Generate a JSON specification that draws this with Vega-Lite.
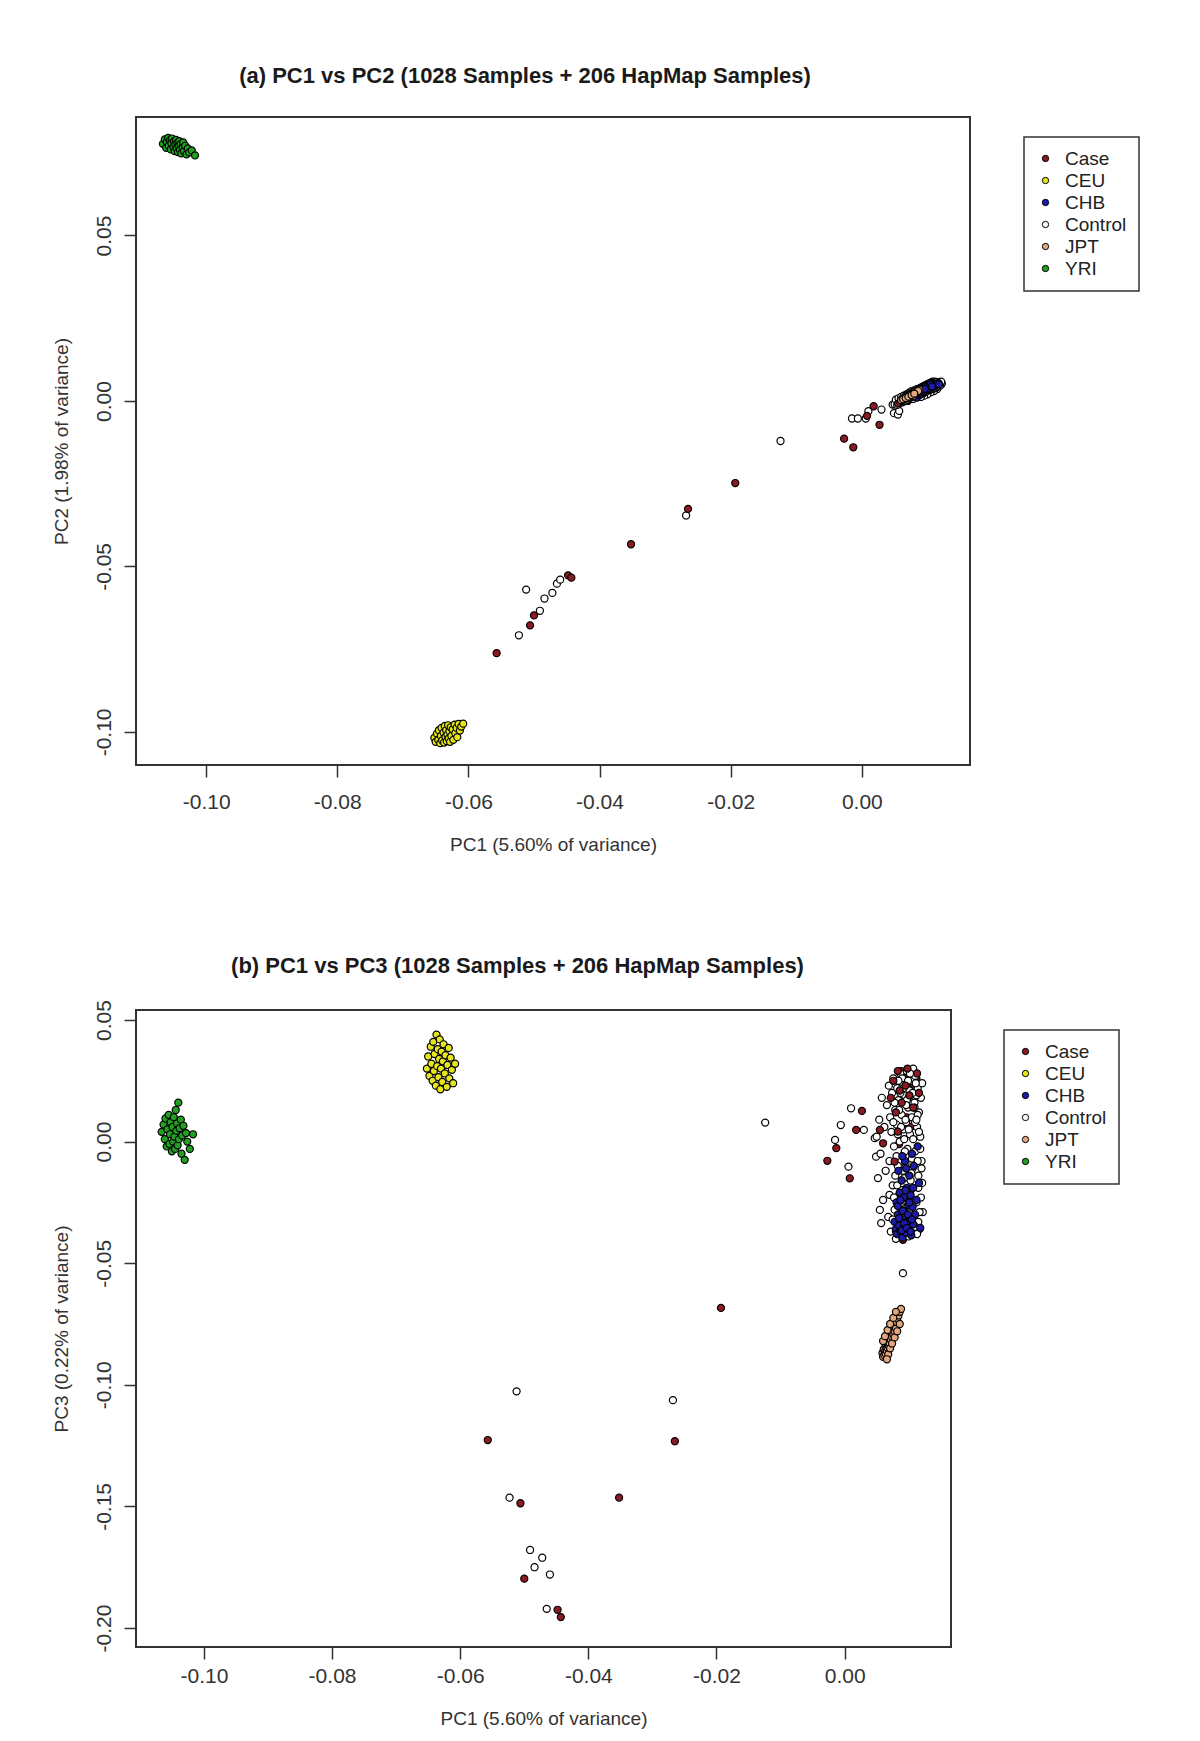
{
  "$schema": "https://vega.github.io/schema/vega-lite/v6.json",
  "padding": {"left": 50, "top": 64, "right": 0, "bottom": 0},
  "background": "white",
  "datasets": {
    "pca": [
      {"group":"Case","pc1":0.0088,"pc2":0.0026,"pc3":0.0290},
      {"group":"Case","pc1":0.0094,"pc2":0.0030,"pc3":0.0250},
      {"group":"Case","pc1":0.0100,"pc2":0.0034,"pc3":0.0280},
      {"group":"Case","pc1":0.0106,"pc2":0.0040,"pc3":0.0240},
      {"group":"Case","pc1":0.0112,"pc2":0.0044,"pc3":0.0260},
      {"group":"Case","pc1":0.0097,"pc2":0.0032,"pc3":0.0100},
      {"group":"Case","pc1":0.0103,"pc2":0.0038,"pc3":0.0060},
      {"group":"Case","pc1":0.0085,"pc2":0.0024,"pc3":-0.0010},
      {"group":"Case","pc1":0.0092,"pc2":0.0032,"pc3":0.0270},
      {"group":"Case","pc1":0.0104,"pc2":0.0042,"pc3":0.0260},
      {"group":"Case","pc1":0.0110,"pc2":0.0046,"pc3":0.0220},
      {"group":"Control","pc1":-0.0523,"pc2":-0.0708,"pc3":-0.1464},
      {"group":"Control","pc1":-0.0512,"pc2":-0.0570,"pc3":-0.1027},
      {"group":"Control","pc1":-0.0491,"pc2":-0.0634,"pc3":-0.1679},
      {"group":"Control","pc1":-0.0484,"pc2":-0.0597,"pc3":-0.1750},
      {"group":"Control","pc1":-0.0472,"pc2":-0.0580,"pc3":-0.1711},
      {"group":"Control","pc1":-0.0465,"pc2":-0.0552,"pc3":-0.1921},
      {"group":"Control","pc1":-0.0460,"pc2":-0.0540,"pc3":-0.1780},
      {"group":"Control","pc1":-0.0268,"pc2":-0.0346,"pc3":-0.1063},
      {"group":"Control","pc1":-0.0124,"pc2":-0.0121,"pc3":0.0078},
      {"group":"Control","pc1":-0.0015,"pc2":-0.0053,"pc3":0.0007},
      {"group":"Control","pc1":-0.0006,"pc2":-0.0053,"pc3":0.0068},
      {"group":"Control","pc1":0.0006,"pc2":-0.0053,"pc3":-0.0103},
      {"group":"Control","pc1":0.0010,"pc2":-0.0031,"pc3":0.0137},
      {"group":"Control","pc1":0.0030,"pc2":-0.0026,"pc3":0.0048},
      {"group":"Control","pc1":0.0047,"pc2":-0.0011,"pc3":0.0014},
      {"group":"Control","pc1":0.0049,"pc2":-0.0037,"pc3":-0.0062},
      {"group":"Control","pc1":0.0055,"pc2":-0.0041,"pc3":-0.0281},
      {"group":"Control","pc1":0.0057,"pc2":-0.0030,"pc3":-0.0335},
      {"group":"Control","pc1":0.0070,"pc2":0.0000,"pc3":-0.0219},
      {"group":"Control","pc1":0.0091,"pc2":0.0020,"pc3":-0.0541},
      {"group":"Control","pc1":0.0050,"pc2":-0.0010,"pc3":0.0020},
      {"group":"Control","pc1":0.0052,"pc2":0.0004,"pc3":-0.0150},
      {"group":"Control","pc1":0.0054,"pc2":-0.0012,"pc3":0.0090},
      {"group":"Control","pc1":0.0056,"pc2":0.0008,"pc3":-0.0050},
      {"group":"Control","pc1":0.0058,"pc2":-0.0006,"pc3":0.0180},
      {"group":"Control","pc1":0.0060,"pc2":0.0012,"pc3":-0.0240},
      {"group":"Control","pc1":0.0062,"pc2":-0.0004,"pc3":0.0060},
      {"group":"Control","pc1":0.0064,"pc2":0.0016,"pc3":-0.0120},
      {"group":"Control","pc1":0.0066,"pc2":0.0000,"pc3":0.0150},
      {"group":"Control","pc1":0.0068,"pc2":0.0020,"pc3":-0.0310},
      {"group":"Control","pc1":0.0069,"pc2":0.0004,"pc3":0.0230},
      {"group":"Control","pc1":0.0070,"pc2":0.0002,"pc3":-0.0080},
      {"group":"Control","pc1":0.0071,"pc2":0.0022,"pc3":0.0100},
      {"group":"Control","pc1":0.0072,"pc2":0.0008,"pc3":-0.0370},
      {"group":"Control","pc1":0.0073,"pc2":0.0026,"pc3":0.0040},
      {"group":"Control","pc1":0.0074,"pc2":0.0006,"pc3":0.0200},
      {"group":"Control","pc1":0.0075,"pc2":0.0014,"pc3":-0.0180},
      {"group":"Control","pc1":0.0076,"pc2":0.0030,"pc3":0.0260},
      {"group":"Control","pc1":0.0077,"pc2":0.0010,"pc3":-0.0020},
      {"group":"Control","pc1":0.0078,"pc2":0.0028,"pc3":-0.0280},
      {"group":"Control","pc1":0.0079,"pc2":0.0012,"pc3":0.0130},
      {"group":"Control","pc1":0.0080,"pc2":0.0032,"pc3":-0.0400},
      {"group":"Control","pc1":0.0081,"pc2":0.0014,"pc3":0.0070},
      {"group":"Control","pc1":0.0082,"pc2":0.0030,"pc3":0.0220},
      {"group":"Control","pc1":0.0083,"pc2":0.0016,"pc3":-0.0100},
      {"group":"Control","pc1":0.0084,"pc2":0.0036,"pc3":0.0170},
      {"group":"Control","pc1":0.0085,"pc2":0.0018,"pc3":-0.0220},
      {"group":"Control","pc1":0.0086,"pc2":0.0034,"pc3":0.0000},
      {"group":"Control","pc1":0.0087,"pc2":0.0020,"pc3":0.0280},
      {"group":"Control","pc1":0.0088,"pc2":0.0038,"pc3":-0.0340},
      {"group":"Control","pc1":0.0089,"pc2":0.0022,"pc3":0.0110},
      {"group":"Control","pc1":0.0090,"pc2":0.0040,"pc3":-0.0060},
      {"group":"Control","pc1":0.0091,"pc2":0.0024,"pc3":0.0240},
      {"group":"Control","pc1":0.0092,"pc2":0.0042,"pc3":0.0050},
      {"group":"Control","pc1":0.0093,"pc2":0.0026,"pc3":-0.0150},
      {"group":"Control","pc1":0.0094,"pc2":0.0044,"pc3":0.0190},
      {"group":"Control","pc1":0.0095,"pc2":0.0028,"pc3":-0.0260},
      {"group":"Control","pc1":0.0096,"pc2":0.0046,"pc3":0.0080},
      {"group":"Control","pc1":0.0097,"pc2":0.0030,"pc3":0.0290},
      {"group":"Control","pc1":0.0098,"pc2":0.0048,"pc3":-0.0030},
      {"group":"Control","pc1":0.0099,"pc2":0.0032,"pc3":0.0140},
      {"group":"Control","pc1":0.0100,"pc2":0.0050,"pc3":-0.0390},
      {"group":"Control","pc1":0.0101,"pc2":0.0034,"pc3":0.0210},
      {"group":"Control","pc1":0.0102,"pc2":0.0052,"pc3":0.0030},
      {"group":"Control","pc1":0.0103,"pc2":0.0036,"pc3":-0.0200},
      {"group":"Control","pc1":0.0104,"pc2":0.0054,"pc3":0.0250},
      {"group":"Control","pc1":0.0105,"pc2":0.0038,"pc3":0.0100},
      {"group":"Control","pc1":0.0106,"pc2":0.0056,"pc3":-0.0110},
      {"group":"Control","pc1":0.0107,"pc2":0.0040,"pc3":0.0300},
      {"group":"Control","pc1":0.0108,"pc2":0.0058,"pc3":-0.0320},
      {"group":"Control","pc1":0.0109,"pc2":0.0042,"pc3":0.0160},
      {"group":"Control","pc1":0.0110,"pc2":0.0056,"pc3":-0.0040},
      {"group":"Control","pc1":0.0111,"pc2":0.0044,"pc3":0.0270},
      {"group":"Control","pc1":0.0112,"pc2":0.0058,"pc3":-0.0250},
      {"group":"Control","pc1":0.0113,"pc2":0.0046,"pc3":0.0060},
      {"group":"Control","pc1":0.0114,"pc2":0.0056,"pc3":0.0220},
      {"group":"Control","pc1":0.0115,"pc2":0.0048,"pc3":-0.0140},
      {"group":"Control","pc1":0.0116,"pc2":0.0056,"pc3":0.0120},
      {"group":"Control","pc1":0.0117,"pc2":0.0050,"pc3":-0.0360},
      {"group":"Control","pc1":0.0118,"pc2":0.0054,"pc3":0.0020},
      {"group":"Control","pc1":0.0119,"pc2":0.0052,"pc3":0.0180},
      {"group":"Control","pc1":0.0120,"pc2":0.0050,"pc3":-0.0080},
      {"group":"Control","pc1":0.0121,"pc2":0.0054,"pc3":0.0240},
      {"group":"Control","pc1":0.0122,"pc2":0.0052,"pc3":-0.0290},
      {"group":"Control","pc1":0.0115,"pc2":0.0036,"pc3":-0.0190},
      {"group":"Control","pc1":0.0110,"pc2":0.0030,"pc3":0.0080},
      {"group":"Control","pc1":0.0105,"pc2":0.0026,"pc3":-0.0300},
      {"group":"Control","pc1":0.0100,"pc2":0.0020,"pc3":0.0180},
      {"group":"Control","pc1":0.0095,"pc2":0.0016,"pc3":-0.0090},
      {"group":"Control","pc1":0.0090,"pc2":0.0012,"pc3":0.0260},
      {"group":"Control","pc1":0.0110,"pc2":0.0050,"pc3":0.0270},
      {"group":"Control","pc1":0.0112,"pc2":0.0040,"pc3":0.0190},
      {"group":"Control","pc1":0.0114,"pc2":0.0052,"pc3":0.0110},
      {"group":"Control","pc1":0.0116,"pc2":0.0044,"pc3":0.0040},
      {"group":"Control","pc1":0.0118,"pc2":0.0056,"pc3":-0.0030},
      {"group":"Control","pc1":0.0120,"pc2":0.0048,"pc3":-0.0110},
      {"group":"Control","pc1":0.0121,"pc2":0.0058,"pc3":-0.0170},
      {"group":"Control","pc1":0.0119,"pc2":0.0046,"pc3":-0.0230},
      {"group":"Control","pc1":0.0117,"pc2":0.0054,"pc3":-0.0290},
      {"group":"Control","pc1":0.0115,"pc2":0.0042,"pc3":-0.0330},
      {"group":"Control","pc1":0.0113,"pc2":0.0050,"pc3":-0.0380},
      {"group":"Control","pc1":0.0111,"pc2":0.0038,"pc3":0.0240},
      {"group":"Control","pc1":0.0109,"pc2":0.0048,"pc3":0.0140},
      {"group":"Control","pc1":0.0107,"pc2":0.0036,"pc3":0.0010},
      {"group":"Control","pc1":0.0105,"pc2":0.0046,"pc3":-0.0070},
      {"group":"Control","pc1":0.0103,"pc2":0.0034,"pc3":-0.0160},
      {"group":"Control","pc1":0.0101,"pc2":0.0044,"pc3":-0.0280},
      {"group":"Control","pc1":0.0099,"pc2":0.0030,"pc3":0.0250},
      {"group":"Control","pc1":0.0097,"pc2":0.0040,"pc3":0.0170},
      {"group":"Control","pc1":0.0095,"pc2":0.0026,"pc3":0.0090},
      {"group":"Control","pc1":0.0093,"pc2":0.0036,"pc3":0.0010},
      {"group":"Control","pc1":0.0091,"pc2":0.0022,"pc3":-0.0120},
      {"group":"Control","pc1":0.0089,"pc2":0.0032,"pc3":-0.0200},
      {"group":"Control","pc1":0.0087,"pc2":0.0018,"pc3":0.0200},
      {"group":"Control","pc1":0.0085,"pc2":0.0028,"pc3":0.0130},
      {"group":"Control","pc1":0.0083,"pc2":0.0014,"pc3":0.0030},
      {"group":"Control","pc1":0.0081,"pc2":0.0024,"pc3":-0.0060},
      {"group":"Control","pc1":0.0079,"pc2":0.0010,"pc3":-0.0140},
      {"group":"Control","pc1":0.0077,"pc2":0.0020,"pc3":-0.0230},
      {"group":"Control","pc1":0.0075,"pc2":0.0008,"pc3":-0.0320},
      {"group":"Control","pc1":0.0076,"pc2":0.0022,"pc3":0.0080},
      {"group":"Control","pc1":0.0078,"pc2":0.0006,"pc3":0.0160},
      {"group":"Control","pc1":0.0080,"pc2":0.0026,"pc3":-0.0370},
      {"group":"Control","pc1":0.0082,"pc2":0.0012,"pc3":-0.0180},
      {"group":"Control","pc1":0.0084,"pc2":0.0030,"pc3":0.0250},
      {"group":"Control","pc1":0.0086,"pc2":0.0016,"pc3":-0.0260},
      {"group":"Control","pc1":0.0088,"pc2":0.0034,"pc3":0.0060},
      {"group":"Control","pc1":0.0090,"pc2":0.0020,"pc3":-0.0340},
      {"group":"Control","pc1":0.0092,"pc2":0.0038,"pc3":0.0220},
      {"group":"Control","pc1":0.0094,"pc2":0.0024,"pc3":-0.0040},
      {"group":"Control","pc1":0.0096,"pc2":0.0042,"pc3":0.0150},
      {"group":"Control","pc1":0.0098,"pc2":0.0028,"pc3":-0.0220},
      {"group":"Control","pc1":0.0100,"pc2":0.0046,"pc3":0.0050},
      {"group":"Control","pc1":0.0102,"pc2":0.0032,"pc3":0.0280},
      {"group":"Control","pc1":0.0104,"pc2":0.0050,"pc3":-0.0130},
      {"group":"Control","pc1":0.0106,"pc2":0.0036,"pc3":0.0200},
      {"group":"Control","pc1":0.0108,"pc2":0.0054,"pc3":-0.0250},
      {"group":"Control","pc1":0.0110,"pc2":0.0040,"pc3":-0.0350},
      {"group":"Control","pc1":0.0112,"pc2":0.0056,"pc3":0.0090},
      {"group":"Control","pc1":0.0114,"pc2":0.0044,"pc3":-0.0080},
      {"group":"Case","pc1":-0.0557,"pc2":-0.0762,"pc3":-0.1227},
      {"group":"Case","pc1":-0.0506,"pc2":-0.0678,"pc3":-0.1487},
      {"group":"Case","pc1":-0.0500,"pc2":-0.0648,"pc3":-0.1797},
      {"group":"Case","pc1":-0.0448,"pc2":-0.0527,"pc3":-0.1925},
      {"group":"Case","pc1":-0.0443,"pc2":-0.0534,"pc3":-0.1955},
      {"group":"Case","pc1":-0.0352,"pc2":-0.0433,"pc3":-0.1464},
      {"group":"Case","pc1":-0.0265,"pc2":-0.0326,"pc3":-0.1232},
      {"group":"Case","pc1":-0.0193,"pc2":-0.0248,"pc3":-0.0684},
      {"group":"Case","pc1":-0.0027,"pc2":-0.0114,"pc3":-0.0079},
      {"group":"Case","pc1":-0.0013,"pc2":-0.0140,"pc3":-0.0027},
      {"group":"Case","pc1":0.0008,"pc2":-0.0045,"pc3":-0.0151},
      {"group":"Case","pc1":0.0018,"pc2":-0.0016,"pc3":0.0048},
      {"group":"Case","pc1":0.0027,"pc2":-0.0072,"pc3":0.0126},
      {"group":"Case","pc1":0.0055,"pc2":-0.0008,"pc3":0.0048},
      {"group":"Case","pc1":0.0060,"pc2":0.0002,"pc3":-0.0007},
      {"group":"Case","pc1":0.0072,"pc2":0.0012,"pc3":0.0180},
      {"group":"Case","pc1":0.0076,"pc2":0.0016,"pc3":0.0250},
      {"group":"Case","pc1":0.0080,"pc2":0.0020,"pc3":0.0120},
      {"group":"Case","pc1":0.0083,"pc2":0.0024,"pc3":0.0290},
      {"group":"Case","pc1":0.0086,"pc2":0.0026,"pc3":0.0210},
      {"group":"Case","pc1":0.0089,"pc2":0.0028,"pc3":0.0160},
      {"group":"Case","pc1":0.0095,"pc2":0.0034,"pc3":0.0230},
      {"group":"Case","pc1":0.0098,"pc2":0.0036,"pc3":0.0300},
      {"group":"Case","pc1":0.0101,"pc2":0.0040,"pc3":0.0190},
      {"group":"Case","pc1":0.0107,"pc2":0.0044,"pc3":0.0140},
      {"group":"Case","pc1":0.0113,"pc2":0.0048,"pc3":0.0280},
      {"group":"Case","pc1":0.0116,"pc2":0.0050,"pc3":0.0200},
      {"group":"Case","pc1":0.0083,"pc2":0.0022,"pc3":0.0041},
      {"group":"Case","pc1":0.0091,"pc2":0.0030,"pc3":-0.0404},
      {"group":"Case","pc1":0.0078,"pc2":0.0018,"pc3":-0.0082},
      {"group":"CEU","pc1":-0.0652,"pc2":-0.1018,"pc3":0.0300},
      {"group":"CEU","pc1":-0.0650,"pc2":-0.1030,"pc3":0.0350},
      {"group":"CEU","pc1":-0.0648,"pc2":-0.1005,"pc3":0.0270},
      {"group":"CEU","pc1":-0.0646,"pc2":-0.1024,"pc3":0.0390},
      {"group":"CEU","pc1":-0.0645,"pc2":-0.0995,"pc3":0.0320},
      {"group":"CEU","pc1":-0.0643,"pc2":-0.1034,"pc3":0.0250},
      {"group":"CEU","pc1":-0.0642,"pc2":-0.1012,"pc3":0.0410},
      {"group":"CEU","pc1":-0.0641,"pc2":-0.0988,"pc3":0.0290},
      {"group":"CEU","pc1":-0.0640,"pc2":-0.1026,"pc3":0.0360},
      {"group":"CEU","pc1":-0.0638,"pc2":-0.1002,"pc3":0.0230},
      {"group":"CEU","pc1":-0.0637,"pc2":-0.1032,"pc3":0.0440},
      {"group":"CEU","pc1":-0.0636,"pc2":-0.0982,"pc3":0.0310},
      {"group":"CEU","pc1":-0.0635,"pc2":-0.1015,"pc3":0.0380},
      {"group":"CEU","pc1":-0.0634,"pc2":-0.0995,"pc3":0.0265},
      {"group":"CEU","pc1":-0.0633,"pc2":-0.1028,"pc3":0.0340},
      {"group":"CEU","pc1":-0.0632,"pc2":-0.1008,"pc3":0.0420},
      {"group":"CEU","pc1":-0.0631,"pc2":-0.0980,"pc3":0.0215},
      {"group":"CEU","pc1":-0.0630,"pc2":-0.1020,"pc3":0.0300},
      {"group":"CEU","pc1":-0.0629,"pc2":-0.0998,"pc3":0.0370},
      {"group":"CEU","pc1":-0.0628,"pc2":-0.1030,"pc3":0.0245},
      {"group":"CEU","pc1":-0.0627,"pc2":-0.0986,"pc3":0.0330},
      {"group":"CEU","pc1":-0.0626,"pc2":-0.1012,"pc3":0.0400},
      {"group":"CEU","pc1":-0.0624,"pc2":-0.0992,"pc3":0.0280},
      {"group":"CEU","pc1":-0.0623,"pc2":-0.1024,"pc3":0.0355},
      {"group":"CEU","pc1":-0.0621,"pc2":-0.0978,"pc3":0.0225},
      {"group":"CEU","pc1":-0.0620,"pc2":-0.1004,"pc3":0.0315},
      {"group":"CEU","pc1":-0.0618,"pc2":-0.0988,"pc3":0.0385},
      {"group":"CEU","pc1":-0.0617,"pc2":-0.1016,"pc3":0.0260},
      {"group":"CEU","pc1":-0.0615,"pc2":-0.0976,"pc3":0.0345},
      {"group":"CEU","pc1":-0.0613,"pc2":-0.0996,"pc3":0.0295},
      {"group":"CEU","pc1":-0.0611,"pc2":-0.0984,"pc3":0.0240},
      {"group":"CEU","pc1":-0.0608,"pc2":-0.0975,"pc3":0.0320},
      {"group":"CHB","pc1":0.0078,"pc2":0.0012,"pc3":-0.0330},
      {"group":"CHB","pc1":0.0080,"pc2":0.0022,"pc3":-0.0360},
      {"group":"CHB","pc1":0.0081,"pc2":0.0016,"pc3":-0.0250},
      {"group":"CHB","pc1":0.0082,"pc2":0.0028,"pc3":-0.0380},
      {"group":"CHB","pc1":0.0083,"pc2":0.0020,"pc3":-0.0300},
      {"group":"CHB","pc1":0.0084,"pc2":0.0010,"pc3":-0.0120},
      {"group":"CHB","pc1":0.0085,"pc2":0.0032,"pc3":-0.0345},
      {"group":"CHB","pc1":0.0086,"pc2":0.0024,"pc3":-0.0210},
      {"group":"CHB","pc1":0.0087,"pc2":0.0018,"pc3":-0.0370},
      {"group":"CHB","pc1":0.0088,"pc2":0.0036,"pc3":-0.0280},
      {"group":"CHB","pc1":0.0089,"pc2":0.0028,"pc3":-0.0160},
      {"group":"CHB","pc1":0.0090,"pc2":0.0022,"pc3":-0.0395},
      {"group":"CHB","pc1":0.0091,"pc2":0.0040,"pc3":-0.0320},
      {"group":"CHB","pc1":0.0092,"pc2":0.0032,"pc3":-0.0230},
      {"group":"CHB","pc1":0.0093,"pc2":0.0026,"pc3":-0.0350},
      {"group":"CHB","pc1":0.0094,"pc2":0.0044,"pc3":-0.0080},
      {"group":"CHB","pc1":0.0095,"pc2":0.0036,"pc3":-0.0290},
      {"group":"CHB","pc1":0.0096,"pc2":0.0030,"pc3":-0.0375},
      {"group":"CHB","pc1":0.0097,"pc2":0.0046,"pc3":-0.0190},
      {"group":"CHB","pc1":0.0098,"pc2":0.0040,"pc3":-0.0330},
      {"group":"CHB","pc1":0.0099,"pc2":0.0034,"pc3":-0.0260},
      {"group":"CHB","pc1":0.0100,"pc2":0.0050,"pc3":-0.0360},
      {"group":"CHB","pc1":0.0101,"pc2":0.0044,"pc3":-0.0140},
      {"group":"CHB","pc1":0.0102,"pc2":0.0038,"pc3":-0.0310},
      {"group":"CHB","pc1":0.0103,"pc2":0.0052,"pc3":-0.0220},
      {"group":"CHB","pc1":0.0104,"pc2":0.0046,"pc3":-0.0385},
      {"group":"CHB","pc1":0.0105,"pc2":0.0040,"pc3":-0.0050},
      {"group":"CHB","pc1":0.0106,"pc2":0.0054,"pc3":-0.0270},
      {"group":"CHB","pc1":0.0107,"pc2":0.0048,"pc3":-0.0340},
      {"group":"CHB","pc1":0.0108,"pc2":0.0042,"pc3":-0.0100},
      {"group":"CHB","pc1":0.0110,"pc2":0.0052,"pc3":-0.0300},
      {"group":"CHB","pc1":0.0112,"pc2":0.0046,"pc3":-0.0240},
      {"group":"CHB","pc1":0.0114,"pc2":0.0050,"pc3":-0.0020},
      {"group":"CHB","pc1":0.0116,"pc2":0.0054,"pc3":-0.0170},
      {"group":"CHB","pc1":0.0118,"pc2":0.0050,"pc3":-0.0355},
      {"group":"CHB","pc1":0.0083,"pc2":0.0026,"pc3":-0.0265},
      {"group":"CHB","pc1":0.0085,"pc2":0.0022,"pc3":-0.0315},
      {"group":"CHB","pc1":0.0087,"pc2":0.0030,"pc3":-0.0240},
      {"group":"CHB","pc1":0.0089,"pc2":0.0034,"pc3":-0.0365},
      {"group":"CHB","pc1":0.0091,"pc2":0.0028,"pc3":-0.0285},
      {"group":"CHB","pc1":0.0093,"pc2":0.0038,"pc3":-0.0335},
      {"group":"CHB","pc1":0.0095,"pc2":0.0030,"pc3":-0.0200},
      {"group":"CHB","pc1":0.0097,"pc2":0.0040,"pc3":-0.0355},
      {"group":"CHB","pc1":0.0099,"pc2":0.0044,"pc3":-0.0300},
      {"group":"CHB","pc1":0.0101,"pc2":0.0038,"pc3":-0.0250},
      {"group":"CHB","pc1":0.0103,"pc2":0.0046,"pc3":-0.0370},
      {"group":"CHB","pc1":0.0105,"pc2":0.0050,"pc3":-0.0320},
      {"group":"CHB","pc1":0.0107,"pc2":0.0044,"pc3":-0.0190},
      {"group":"CHB","pc1":0.0090,"pc2":0.0032,"pc3":-0.0060},
      {"group":"CHB","pc1":0.0096,"pc2":0.0036,"pc3":-0.0110},
      {"group":"JPT","pc1":0.0059,"pc2":-0.0003,"pc3":-0.0870},
      {"group":"JPT","pc1":0.0060,"pc2":0.0003,"pc3":-0.0885},
      {"group":"JPT","pc1":0.0061,"pc2":0.0000,"pc3":-0.0855},
      {"group":"JPT","pc1":0.0062,"pc2":0.0006,"pc3":-0.0878},
      {"group":"JPT","pc1":0.0063,"pc2":0.0002,"pc3":-0.0862},
      {"group":"JPT","pc1":0.0064,"pc2":0.0009,"pc3":-0.0840},
      {"group":"JPT","pc1":0.0064,"pc2":-0.0001,"pc3":-0.0872},
      {"group":"JPT","pc1":0.0065,"pc2":0.0005,"pc3":-0.0850},
      {"group":"JPT","pc1":0.0066,"pc2":0.0012,"pc3":-0.0862},
      {"group":"JPT","pc1":0.0067,"pc2":0.0007,"pc3":-0.0830},
      {"group":"JPT","pc1":0.0067,"pc2":0.0001,"pc3":-0.0848},
      {"group":"JPT","pc1":0.0068,"pc2":0.0015,"pc3":-0.0818},
      {"group":"JPT","pc1":0.0069,"pc2":0.0010,"pc3":-0.0840},
      {"group":"JPT","pc1":0.0070,"pc2":0.0004,"pc3":-0.0808},
      {"group":"JPT","pc1":0.0070,"pc2":0.0018,"pc3":-0.0828},
      {"group":"JPT","pc1":0.0071,"pc2":0.0013,"pc3":-0.0796},
      {"group":"JPT","pc1":0.0072,"pc2":0.0008,"pc3":-0.0815},
      {"group":"JPT","pc1":0.0073,"pc2":0.0021,"pc3":-0.0785},
      {"group":"JPT","pc1":0.0074,"pc2":0.0016,"pc3":-0.0803},
      {"group":"JPT","pc1":0.0075,"pc2":0.0011,"pc3":-0.0775},
      {"group":"JPT","pc1":0.0076,"pc2":0.0024,"pc3":-0.0792},
      {"group":"JPT","pc1":0.0077,"pc2":0.0019,"pc3":-0.0762},
      {"group":"JPT","pc1":0.0078,"pc2":0.0014,"pc3":-0.0780},
      {"group":"JPT","pc1":0.0079,"pc2":0.0027,"pc3":-0.0752},
      {"group":"JPT","pc1":0.0080,"pc2":0.0022,"pc3":-0.0768},
      {"group":"JPT","pc1":0.0081,"pc2":0.0030,"pc3":-0.0742},
      {"group":"JPT","pc1":0.0082,"pc2":0.0025,"pc3":-0.0728},
      {"group":"JPT","pc1":0.0084,"pc2":0.0032,"pc3":-0.0715},
      {"group":"JPT","pc1":0.0086,"pc2":0.0028,"pc3":-0.0700},
      {"group":"JPT","pc1":0.0088,"pc2":0.0034,"pc3":-0.0688},
      {"group":"JPT","pc1":0.0068,"pc2":0.0010,"pc3":-0.0875},
      {"group":"JPT","pc1":0.0071,"pc2":0.0014,"pc3":-0.0850},
      {"group":"JPT","pc1":0.0074,"pc2":0.0018,"pc3":-0.0830},
      {"group":"JPT","pc1":0.0078,"pc2":0.0022,"pc3":-0.0805},
      {"group":"JPT","pc1":0.0082,"pc2":0.0026,"pc3":-0.0780},
      {"group":"JPT","pc1":0.0086,"pc2":0.0030,"pc3":-0.0750},
      {"group":"JPT","pc1":0.0066,"pc2":0.0008,"pc3":-0.0895},
      {"group":"JPT","pc1":0.0060,"pc2":0.0002,"pc3":-0.0820},
      {"group":"JPT","pc1":0.0063,"pc2":0.0005,"pc3":-0.0800},
      {"group":"JPT","pc1":0.0067,"pc2":0.0009,"pc3":-0.0775},
      {"group":"JPT","pc1":0.0071,"pc2":0.0013,"pc3":-0.0750},
      {"group":"JPT","pc1":0.0076,"pc2":0.0018,"pc3":-0.0725},
      {"group":"JPT","pc1":0.0080,"pc2":0.0022,"pc3":-0.0700},
      {"group":"YRI","pc1":-0.1066,"pc2":0.0777,"pc3":0.0040},
      {"group":"YRI","pc1":-0.1063,"pc2":0.0790,"pc3":0.0070},
      {"group":"YRI","pc1":-0.1061,"pc2":0.0765,"pc3":0.0010},
      {"group":"YRI","pc1":-0.1060,"pc2":0.0783,"pc3":0.0095},
      {"group":"YRI","pc1":-0.1058,"pc2":0.0795,"pc3":-0.0020},
      {"group":"YRI","pc1":-0.1057,"pc2":0.0771,"pc3":0.0050},
      {"group":"YRI","pc1":-0.1055,"pc2":0.0787,"pc3":0.0110},
      {"group":"YRI","pc1":-0.1054,"pc2":0.0760,"pc3":-0.0010},
      {"group":"YRI","pc1":-0.1053,"pc2":0.0779,"pc3":0.0030},
      {"group":"YRI","pc1":-0.1052,"pc2":0.0793,"pc3":0.0080},
      {"group":"YRI","pc1":-0.1050,"pc2":0.0767,"pc3":-0.0040},
      {"group":"YRI","pc1":-0.1049,"pc2":0.0784,"pc3":0.0060},
      {"group":"YRI","pc1":-0.1048,"pc2":0.0755,"pc3":0.0000},
      {"group":"YRI","pc1":-0.1047,"pc2":0.0775,"pc3":0.0100},
      {"group":"YRI","pc1":-0.1046,"pc2":0.0789,"pc3":0.0020},
      {"group":"YRI","pc1":-0.1045,"pc2":0.0763,"pc3":-0.0030},
      {"group":"YRI","pc1":-0.1044,"pc2":0.0780,"pc3":0.0130},
      {"group":"YRI","pc1":-0.1043,"pc2":0.0752,"pc3":0.0045},
      {"group":"YRI","pc1":-0.1042,"pc2":0.0771,"pc3":0.0075},
      {"group":"YRI","pc1":-0.1041,"pc2":0.0785,"pc3":-0.0015},
      {"group":"YRI","pc1":-0.1040,"pc2":0.0759,"pc3":0.0160},
      {"group":"YRI","pc1":-0.1039,"pc2":0.0776,"pc3":0.0010},
      {"group":"YRI","pc1":-0.1038,"pc2":0.0748,"pc3":0.0055},
      {"group":"YRI","pc1":-0.1036,"pc2":0.0767,"pc3":0.0090},
      {"group":"YRI","pc1":-0.1035,"pc2":0.0781,"pc3":-0.0050},
      {"group":"YRI","pc1":-0.1034,"pc2":0.0755,"pc3":0.0025},
      {"group":"YRI","pc1":-0.1032,"pc2":0.0771,"pc3":0.0065},
      {"group":"YRI","pc1":-0.1030,"pc2":0.0745,"pc3":-0.0075},
      {"group":"YRI","pc1":-0.1028,"pc2":0.0763,"pc3":0.0035},
      {"group":"YRI","pc1":-0.1026,"pc2":0.0751,"pc3":0.0000},
      {"group":"YRI","pc1":-0.1022,"pc2":0.0757,"pc3":-0.0030},
      {"group":"YRI","pc1":-0.1017,"pc2":0.0742,"pc3":0.0030}
    ]
  },
  "vconcat": [
    {
      "title": {"text": "(a)  PC1 vs PC2 (1028 Samples + 206 HapMap Samples)", "dx": -28, "offset": 29},
      "width": 834,
      "height": 648,
      "data": {"name": "pca"},
      "mark": {"type": "point", "filled": true, "stroke": "black", "strokeWidth": 1.2, "size": 50, "opacity": 1},
      "encoding": {
        "x": {"field": "pc1", "type": "quantitative", "title": "PC1 (5.60% of variance)",
              "scale": {"domain": [-0.1107, 0.0165], "nice": false, "zero": false},
              "axis": {"values": [-0.10, -0.08, -0.06, -0.04, -0.02, 0], "labelPadding": 14, "titlePadding": 23, "labelExpr": "replace(format(datum.value, '.2f'), '\u2212', '-')"}},
        "y": {"field": "pc2", "type": "quantitative", "title": "PC2 (1.98% of variance)",
              "scale": {"domain": [-0.1100, 0.0858], "nice": false, "zero": false},
              "axis": {"values": [-0.10, -0.05, 0, 0.05], "labelExpr": "replace(format(datum.value, '.2f'), '\u2212', '-')"}},
        "color": {"field": "group", "type": "nominal",
                  "scale": {"domain": ["Case", "CEU", "CHB", "Control", "JPT", "YRI"], "range": ["#8B1A22", "#E6E61E", "#1C1CA8", "#FFFFFF", "#E2A77E", "#22A022"]},
                  "legend": {"orient": "none", "legendX": 888, "legendY": 20, "title": null}}
      }
    },
    {
      "title": {"text": "(b)  PC1 vs PC3 (1028 Samples + 206 HapMap Samples)", "dx": -26, "offset": 22},
      "width": 815,
      "height": 637,
      "data": {"name": "pca"},
      "mark": {"type": "point", "filled": true, "stroke": "black", "strokeWidth": 1.2, "size": 50, "opacity": 1},
      "encoding": {
        "x": {"field": "pc1", "type": "quantitative", "title": "PC1 (5.60% of variance)",
              "scale": {"domain": [-0.1106, 0.0166], "nice": false, "zero": false},
              "axis": {"values": [-0.10, -0.08, -0.06, -0.04, -0.02, 0], "labelPadding": 6, "titlePadding": 23, "labelExpr": "replace(format(datum.value, '.2f'), '\u2212', '-')"}},
        "y": {"field": "pc3", "type": "quantitative", "title": "PC3 (0.22% of variance)",
              "scale": {"domain": [-0.2078, 0.0541], "nice": false, "zero": false},
              "axis": {"values": [-0.20, -0.15, -0.10, -0.05, 0, 0.05], "labelExpr": "replace(format(datum.value, '.2f'), '\u2212', '-')"}},
        "color": {"field": "group", "type": "nominal",
                  "scale": {"domain": ["Case", "CEU", "CHB", "Control", "JPT", "YRI"], "range": ["#8B1A22", "#E6E61E", "#1C1CA8", "#FFFFFF", "#E2A77E", "#22A022"]},
                  "legend": {"orient": "none", "legendX": 868, "legendY": 20, "title": null}}
      }
    }
  ],
  "spacing": 98,
  "resolve": {"legend": {"color": "independent"}},
  "config": {
    "font": "Liberation Sans",
    "view": {"stroke": "#333333", "strokeWidth": 2},
    "axis": {
      "grid": false, "domain": false,
      "tickColor": "#333333", "tickWidth": 1.5, "tickSize": 12,
      "labelFont": "Liberation Sans", "labelFontSize": 21, "labelColor": "#333333", "labelPadding": 16,
      "titleFont": "Liberation Sans", "titleFontSize": 19, "titleFontWeight": "normal", "titleColor": "#333333", "titlePadding": 24
    },
    "axisY": {"labelAngle": 270, "labelAlign": "center", "labelBaseline": "bottom", "labelPadding": 10, "titlePadding": 22},
    "legend": {
      "strokeColor": "#333333", "strokeWidth": 1.5, "padding": 12, "fillColor": "white",
      "labelFont": "Liberation Sans", "labelFontSize": 19, "labelColor": "#222222",
      "symbolSize": 40, "symbolStrokeColor": "black", "symbolStrokeWidth": 1, "rowPadding": 2, "labelOffset": 10,
      "symbolType": "circle"
    },
    "title": {"font": "Liberation Sans Narrow, Liberation Sans", "fontSize": 22, "fontWeight": "bold", "color": "#1a1a1a", "anchor": "middle"}
  }
}
